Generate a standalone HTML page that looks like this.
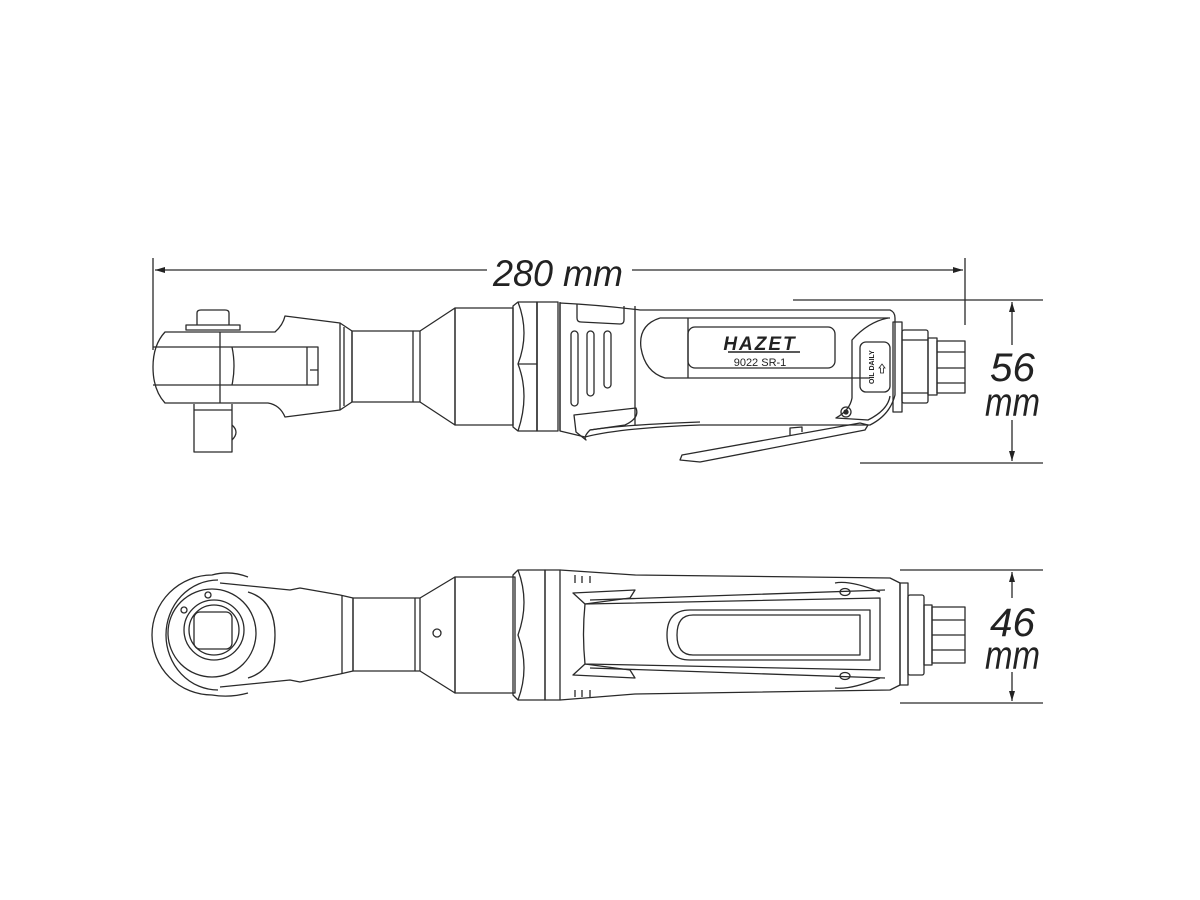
<!DOCTYPE html>
<html><head><meta charset="utf-8"><style>
html,body{margin:0;padding:0;background:#fff;}
svg{display:block}
text{font-family:"Liberation Sans","DejaVu Sans",sans-serif;}
</style></head><body>
<svg width="1200" height="900" viewBox="0 0 1200 900" xmlns="http://www.w3.org/2000/svg">
<defs>
<marker id="a" viewBox="0 0 10 10" refX="10" refY="5" markerWidth="10" markerHeight="10" orient="auto-start-reverse" markerUnits="userSpaceOnUse">
<path d="M0,2 L10,5 L0,8 z" fill="#222"/></marker>
</defs>
<g fill="none" stroke="#2a2a2a" stroke-width="1.3" stroke-linejoin="round">
<line x1="153" y1="258" x2="153" y2="350"/>
<line x1="965" y1="258" x2="965" y2="325"/>
<line x1="155" y1="270" x2="487" y2="270" marker-start="url(#a)"/>
<line x1="632" y1="270" x2="963" y2="270" marker-end="url(#a)"/>
<line x1="793" y1="300" x2="1043" y2="300"/>
<line x1="860" y1="463" x2="1043" y2="463"/>
<line x1="1012" y1="302" x2="1012" y2="345" marker-start="url(#a)"/>
<line x1="1012" y1="420" x2="1012" y2="461" marker-end="url(#a)"/>
<line x1="900" y1="570" x2="1043" y2="570"/>
<line x1="900" y1="703" x2="1043" y2="703"/>
<line x1="1012" y1="572" x2="1012" y2="598" marker-start="url(#a)"/>
<line x1="1012" y1="672" x2="1012" y2="701" marker-end="url(#a)"/>

<path d="M165,332 L275,332 Q283,325 285,316 L340,323 L340,410 L285,417 Q280,405 268,403 L165,403 Q153,390 153,367 Q153,345 165,332 Z"/>
<path d="M153,347 L318,347 L318,385 L153,385"/>
<line x1="220" y1="332" x2="220" y2="403"/>
<path d="M232,347 Q236,366 232,385"/>
<path d="M307,347 L307,385 M310,370 L318,370"/>
<path d="M186,330 L186,325 L240,325 L240,330 Z M197,325 L197,313 Q197,310 201,310 L225,310 Q229,310 229,313 L229,325"/>
<path d="M194,404 L194,452 L232,452 L232,404 M194,410 L232,410"/>
<path d="M232,425 Q240,432 232,440"/>
<path d="M340,323 L352,331 L352,402 L340,410"/>
<line x1="344" y1="327" x2="344" y2="406"/>
<rect x="352" y="331" width="61" height="71"/>
<path d="M413,331 L420,331 L455,308 L455,425 L420,402 L413,402"/>
<line x1="420" y1="331" x2="420" y2="402"/>
<rect x="455" y="308" width="58" height="117"/>
<path d="M513,306 L518,302 L537,302 L537,431 L518,431 L513,427 Z"/>
<path d="M518,302 Q530,333 518,364 Q530,395 518,431 M537,302 L537,431"/>
<path d="M518,364 L537,364"/>
<rect x="537" y="302" width="21" height="129"/>
<line x1="560" y1="302" x2="560" y2="431"/>
<path d="M560,303 Q600,305 640,310 L890,310 Q895,312 895,318 L895,395 Q890,415 870,425 L700,425 Q620,428 585,437 L560,431 Z"/>
<line x1="635" y1="306" x2="635" y2="425"/>
<path d="M577,304 L577,318 Q577,322 581,322 L620,324 Q624,324 624,320 L624,306"/>
<rect x="571" y="331" width="7" height="75" rx="3.5"/>
<rect x="587" y="331" width="7" height="65" rx="3.5"/>
<rect x="604" y="331" width="7" height="57" rx="3.5"/>
<path d="M574,415 L636,408 Q640,418 625,425 L590,430 Q583,437 586,440 L576,432 Z"/>
<path d="M590,430 Q620,425 700,422"/>
<path d="M660,318 L890,318 M660,318 Q638,325 641,348 Q645,372 665,378 L870,378"/>
<rect x="688" y="327" width="147" height="41" rx="7"/>
<line x1="688" y1="318" x2="688" y2="378"/>
<path d="M888,318 Q868,322 852,340 L852,398 Q850,410 836,418 L868,420 Q888,410 890,396"/>
<rect x="860" y="342" width="30" height="50" rx="6"/>
<circle cx="846" cy="412" r="5"/>
<circle cx="846" cy="412" r="2" fill="#2a2a2a"/>
<path d="M680,460 L682,455 L860,423 L868,425 L865,430 L700,462 Z"/>
<path d="M790,435 L790,428 L802,427 L802,432"/>
<rect x="893" y="322" width="9" height="90"/>
<rect x="902" y="330" width="26" height="73" rx="2"/>
<line x1="902" y1="340" x2="928" y2="340"/><line x1="902" y1="393" x2="928" y2="393"/>
<rect x="928" y="338" width="9" height="57"/>
<rect x="937" y="341" width="28" height="52"/>
<line x1="937" y1="352" x2="965" y2="352"/><line x1="937" y1="368" x2="965" y2="368"/><line x1="937" y1="383" x2="965" y2="383"/>

<path d="M248,577 Q230,570 212,575 A60,60 0 1 0 212,695 Q230,698 248,693"/>
<path d="M218,580 A52,55 0 1 0 218,690"/>
<path d="M220,583 L290,590 L300,588 L340,595 L353,598 L353,671 L340,674 L300,682 L290,680 L220,687"/>
<path d="M248,592 Q275,600 275,635 Q275,670 248,678"/>
<circle cx="212" cy="633" r="44"/>
<circle cx="214" cy="630" r="30"/>
<circle cx="214" cy="630" r="25"/>
<rect x="194" y="612" width="38" height="37" rx="6"/>
<circle cx="184" cy="610" r="3"/>
<circle cx="208" cy="595" r="3"/>
<line x1="342" y1="596" x2="342" y2="673"/>
<rect x="353" y="598" width="62" height="73"/>
<path d="M415,598 L420,598 L455,577 L455,693 L420,671 L415,671"/>
<line x1="420" y1="598" x2="420" y2="671"/>
<rect x="455" y="577" width="60" height="116"/>
<circle cx="437" cy="633" r="4"/>
<path d="M513,575 L518,570 L545,570 L545,700 L518,700 L513,695 Z"/>
<path d="M518,570 Q530,602 518,635 Q530,668 518,700"/>
<rect x="545" y="570" width="15" height="130"/>
<path d="M560,570 L635,575 L890,578 L900,583 L900,685 L890,690 L635,694 L560,700"/>
<path d="M575,575 L575,583 M582,576 L582,583 M590,576 L590,583 M575,690 L575,697 M582,690 L582,697 M590,690 L590,697"/>
<path d="M573,593 L635,590 L630,598 L585,604 Z M573,675 L635,678 L630,670 L585,664 Z"/>
<path d="M585,604 L880,598 L880,670 L585,664 Q582,634 585,604"/>
<path d="M590,600 L885,590 M590,668 L885,678"/>
<path d="M690,610 L870,610 L870,660 L690,660 Q667,660 667,635 Q667,610 690,610 Z"/>
<path d="M693,615 L860,615 L860,655 L693,655 Q677,655 677,635 Q677,615 693,615"/>
<path d="M835,583 Q850,580 880,592 M835,688 Q850,690 880,678"/>
<ellipse cx="845" cy="592" rx="5" ry="3.5"/><ellipse cx="845" cy="676" rx="5" ry="3.5"/>
<rect x="900" y="583" width="8" height="102"/>
<rect x="908" y="595" width="16" height="80" rx="2"/>
<rect x="924" y="605" width="8" height="60"/>
<rect x="932" y="607" width="33" height="56"/>
<line x1="932" y1="620" x2="965" y2="620"/><line x1="932" y1="635" x2="965" y2="635"/><line x1="932" y1="650" x2="965" y2="650"/>
</g>
<g fill="#222" font-style="italic">
<text x="493" y="286" font-size="37" textLength="130" lengthAdjust="spacingAndGlyphs">280 mm</text>
<text x="990" y="381" font-size="40" textLength="45" lengthAdjust="spacingAndGlyphs">56</text>
<text x="985" y="416" font-size="40" textLength="55" lengthAdjust="spacingAndGlyphs">mm</text>
<text x="990" y="636" font-size="40" textLength="45" lengthAdjust="spacingAndGlyphs">46</text>
<text x="985" y="669" font-size="40" textLength="55" lengthAdjust="spacingAndGlyphs">mm</text>
<text x="760" y="350" font-size="19" text-anchor="middle" font-weight="bold" letter-spacing="2">HAZET</text>
</g>
<line x1="728" y1="352" x2="800" y2="352" stroke="#222" stroke-width="1.5"/>
<text x="760" y="366" font-size="11" text-anchor="middle" fill="#222">9022 SR-1</text>
<text x="0" y="0" font-size="7" font-weight="bold" fill="#222" transform="translate(874,384) rotate(-90)">OIL DAILY</text>
<path d="M879,368 L882,364 L885,368 L883.5,368 L883.5,373 L880.5,373 L880.5,368 Z" fill="none" stroke="#222" stroke-width="0.8"/>
</svg>
</body></html>
